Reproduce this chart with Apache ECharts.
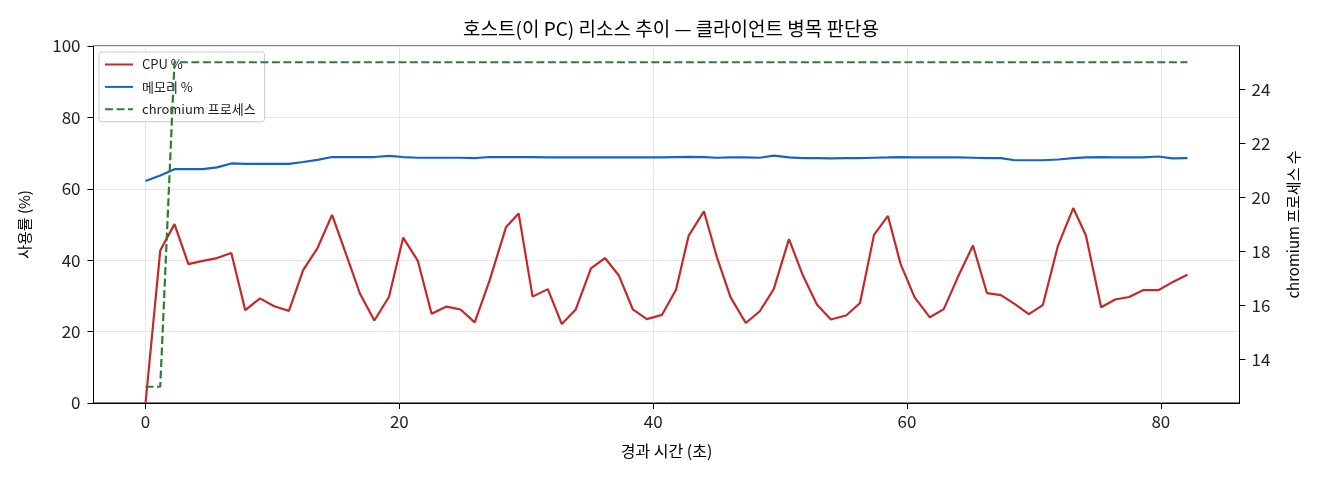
<!DOCTYPE html>
<html>
<head>
<meta charset="utf-8">
<title>호스트 리소스 추이</title>
<script src="https://cdn.jsdelivr.net/npm/echarts@6.0.0/dist/echarts.min.js"></script>
<style>
    html, body { margin: 0; padding: 0; background: #fff; }
    #host_chart { width: 1320px; height: 480px; }
</style>
</head>
<body>
<div id="host_chart"></div>
<script>
// 경과 시간 (초) - 샘플 시각
var elapsedSec = [
    0, 1.16, 2.28, 3.38, 4.51, 5.64, 6.76, 7.86, 9.02, 10.14,
    11.3, 12.42, 13.55, 14.7, 15.8, 16.9, 18.03, 19.18, 20.3, 21.46,
    22.54, 23.72, 24.82, 25.94, 27.1, 28.4, 29.4, 30.5, 31.7, 32.8,
    33.9, 35.1, 36.2, 37.3, 38.4, 39.5, 40.7, 41.8, 42.8, 44.0,
    45.0, 46.1, 47.3, 48.4, 49.5, 50.7, 51.8, 52.9, 54.0, 55.2,
    56.3, 57.4, 58.5, 59.5, 60.6, 61.8, 62.9, 64.0, 65.2, 66.3,
    67.4, 68.5, 69.6, 70.7, 71.9, 73.1, 74.1, 75.3, 76.4, 77.5,
    78.6, 79.8, 80.9, 82.1
];
// CPU %
var cpuPct = [
    0, 42.7, 50.1, 38.9, 39.8, 40.6, 42.0, 26.0, 29.3, 27.1,
    25.8, 37.2, 43.4, 52.7, 41.7, 30.6, 23.1, 29.7, 46.3, 39.8,
    25.0, 27.0, 26.2, 22.6, 34.2, 49.2, 53.1, 29.8, 31.9, 22.1,
    26.2, 37.7, 40.6, 35.7, 26.2, 23.5, 24.7, 31.7, 46.9, 53.7,
    41.1, 29.6, 22.4, 25.7, 31.9, 45.9, 35.7, 27.6, 23.4, 24.5,
    28.0, 47.1, 52.4, 38.9, 29.6, 24.0, 26.3, 35.2, 44.1, 30.8,
    30.2, 27.7, 24.9, 27.4, 44.1, 54.6, 46.9, 26.8, 29.0, 29.7,
    31.6, 31.6, 33.8, 35.9
];
// 메모리 %
var memPct = [
    62.2, 63.7, 65.5, 65.5, 65.5, 66.0, 67.1, 67.0, 67.0, 67.0,
    67.0, 67.5, 68.1, 68.9, 68.9, 68.9, 68.9, 69.2, 68.9, 68.7,
    68.7, 68.7, 68.7, 68.6, 68.9, 68.9, 68.9, 68.9, 68.8, 68.8,
    68.8, 68.8, 68.8, 68.8, 68.8, 68.8, 68.8, 68.9, 68.95, 68.9,
    68.7, 68.8, 68.8, 68.7, 69.3, 68.8, 68.6, 68.6, 68.5, 68.6,
    68.6, 68.7, 68.8, 68.9, 68.8, 68.8, 68.8, 68.8, 68.7, 68.6,
    68.6, 68.0, 68.0, 68.0, 68.2, 68.6, 68.8, 68.9, 68.8, 68.8,
    68.8, 69.05, 68.5, 68.6
];
// chromium 프로세스 수
var chromiumProcs = [
    13, 13, 25, 25, 25, 25, 25, 25, 25, 25,
    25, 25, 25, 25, 25, 25, 25, 25, 25, 25,
    25, 25, 25, 25, 25, 25, 25, 25, 25, 25,
    25, 25, 25, 25, 25, 25, 25, 25, 25, 25,
    25, 25, 25, 25, 25, 25, 25, 25, 25, 25,
    25, 25, 25, 25, 25, 25, 25, 25, 25, 25,
    25, 25, 25, 25, 25, 25, 25, 25, 25, 25,
    25, 25, 25, 25
];
// 눈금
var timeTicks = [0, 20, 40, 60, 80];
var procTicks = [14, 16, 18, 20, 22, 24];

var FONT = '"Noto Sans CJK KR", "Noto Sans", sans-serif';

function pairUp(ys) {
    return elapsedSec.map(function(t, i) { return [t, ys[i]]; });
}

var hostChart = echarts.init(document.getElementById('host_chart'));
var option = {
    animation: false,
    backgroundColor: '#fff',
    textStyle: { fontFamily: FONT },
    title: {
        text: '호스트(이 PC) 리소스 추이 — 클라이언트 병목 판단용',
        left: 666,
        top: 14,
        textAlign: 'center',
        textStyle: { fontFamily: FONT, fontSize: 19, fontWeight: 'normal', color: '#000' }
    },
    legend: {
        orient: 'vertical',
        left: 99,
        top: 52,
        z: 3,
        padding: [6, 9, 6, 5],
        itemWidth: 28,
        itemHeight: 14,
        itemGap: 9.4,
        backgroundColor: 'rgba(255,255,255,0.8)',
        borderColor: '#cccccc',
        borderWidth: 1,
        borderRadius: 3,
        // 범례 아이콘은 선만 (원 표시 숨김)
        itemStyle: { opacity: 0, color: 'rgba(0,0,0,0)', borderWidth: 0 },
        textStyle: { fontFamily: FONT, fontSize: 13, color: '#222', padding: [0, 0, 0, 4] },
        data: ['CPU %', '메모리 %', 'chromium 프로세스']
    },
    grid: {
        left: 93.5,
        right: 80.5,
        top: 46,
        bottom: 77,
        show: true,
        borderColor: '#000',
        borderWidth: 1,
        backgroundColor: 'transparent'
    },
    xAxis: {
        type: 'value',
        min: -4.1,
        max: 86.2,
        splitNumber: 5,
        name: '경과 시간 (초)',
        nameLocation: 'middle',
        nameGap: 40,
        nameTextStyle: { fontFamily: FONT, fontSize: 16, color: '#000' },
        axisLine: { show: true, onZero: false, lineStyle: { color: '#000', width: 1 } },
        axisTick: { show: true, inside: false, length: 6, lineStyle: { color: '#000' }, customValues: timeTicks },
        axisLabel: { customValues: timeTicks, color: '#222', fontSize: 17, margin: 10, fontFamily: FONT },
        splitLine: { show: true, lineStyle: { color: '#e6e6e6', width: 1 } }
    },
    yAxis: [
        {
            type: 'value',
            min: 0,
            max: 100,
            interval: 20,
            position: 'left',
            name: '사용률 (%)',
            nameLocation: 'middle',
            nameRotate: 90,
            nameGap: 62,
            nameTextStyle: { fontFamily: FONT, fontSize: 15, color: '#000' },
            axisLine: { show: true, onZero: false, lineStyle: { color: '#000', width: 1 } },
            axisTick: { show: true, inside: false, length: 6, lineStyle: { color: '#000' } },
            axisLabel: { color: '#222', fontSize: 17, margin: 13, fontFamily: FONT },
            splitLine: { show: true, lineStyle: { color: '#e6e6e6', width: 1 } }
        },
        {
            type: 'value',
            min: 12.4,
            max: 25.6,
            splitNumber: 6,
            position: 'right',
            name: 'chromium 프로세스 수',
            nameLocation: 'middle',
            nameRotate: 90,
            nameGap: 46,
            nameTextStyle: { fontFamily: FONT, fontSize: 15, color: '#000' },
            axisLine: { show: true, onZero: false, lineStyle: { color: '#000', width: 1 } },
            axisTick: { show: true, inside: false, length: 6, lineStyle: { color: '#000' }, customValues: procTicks },
            axisLabel: { customValues: procTicks, color: '#222', fontSize: 17, margin: 12, fontFamily: FONT },
            splitLine: { show: false }
        }
    ],
    series: [
        {
            name: 'CPU %',
            type: 'line',
            yAxisIndex: 0,
            symbol: 'none',
            z: 2,
            color: '#c62828',
            lineStyle: { color: '#c62828', width: 2.2 },
            data: pairUp(cpuPct)
        },
        {
            name: '메모리 %',
            type: 'line',
            yAxisIndex: 0,
            symbol: 'none',
            z: 2,
            color: '#1565c0',
            lineStyle: { color: '#1565c0', width: 2.2 },
            data: pairUp(memPct)
        },
        {
            name: 'chromium 프로세스',
            type: 'line',
            yAxisIndex: 1,
            symbol: 'none',
            z: 5,
            color: '#2e7d32',
            lineStyle: { color: '#2e7d32', width: 2.2, type: [8, 3.5] },
            data: pairUp(chromiumProcs)
        }
    ]
};
hostChart.setOption(option);
</script>
</body>
</html>
